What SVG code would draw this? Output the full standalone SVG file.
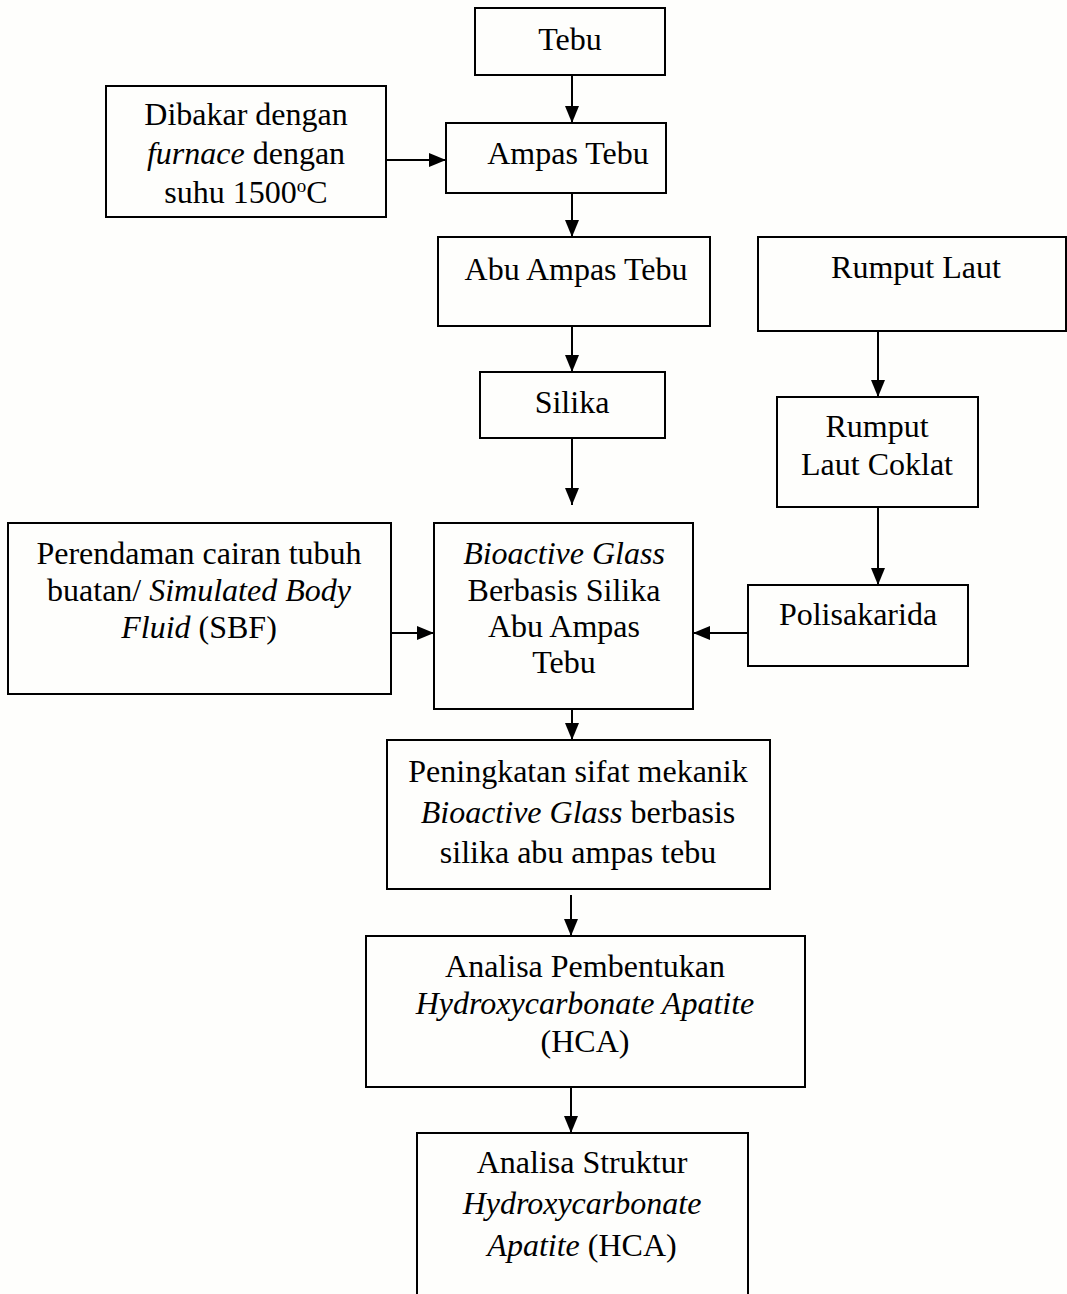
<svg xmlns="http://www.w3.org/2000/svg" width="1067" height="1294" viewBox="0 0 1067 1294">
<defs>
<marker id="ah" viewBox="0 0 17 14" refX="17" refY="7" markerWidth="17" markerHeight="14" markerUnits="userSpaceOnUse" orient="auto">
<path d="M0,0 L17,7 L0,14 z" fill="#000"/>
</marker>
<style>
.box{fill:none;stroke:#000;stroke-width:2}
.t{font-size:32px;fill:#000;text-anchor:middle}
.i{font-style:italic}
.c{stroke:#000;stroke-width:2;fill:none;marker-end:url(#ah)}
</style>
</defs>
<rect width="1067" height="1294" fill="#fefefc"/>
<g font-family="'Liberation Serif', 'DejaVu Serif', serif">
<g id="tebu"><rect class="box" x="475" y="8" width="190" height="67"/><text class="t" x="570" y="50">Tebu</text></g>
<g id="dibakar"><rect class="box" x="106" y="86" width="280" height="131"/>
<text class="t" x="246" y="125">Dibakar dengan</text>
<text class="t" x="246" y="164"><tspan class="i">furnace</tspan> dengan</text>
<text class="t" x="246" y="203">suhu 1500<tspan font-size="19" dy="-11">o</tspan><tspan dy="11">C</tspan></text></g>
<g id="ampas"><rect class="box" x="446" y="123" width="220" height="70"/><text class="t" x="568" y="164">Ampas Tebu</text></g>
<g id="abu"><rect class="box" x="438" y="237" width="272" height="89"/><text class="t" x="576" y="280">Abu Ampas Tebu</text></g>
<g id="rumput"><rect class="box" x="758" y="237" width="308" height="94"/><text class="t" x="916" y="278">Rumput Laut</text></g>
<g id="silika"><rect class="box" x="480" y="372" width="185" height="66"/><text class="t" x="572" y="413">Silika</text></g>
<g id="coklat"><rect class="box" x="777" y="397" width="201" height="110"/>
<text class="t" x="877" y="437">Rumput</text><text class="t" x="877" y="475">Laut Coklat</text></g>
<g id="polisakarida"><rect class="box" x="748" y="585" width="220" height="81"/><text class="t" x="858" y="625">Polisakarida</text></g>
<g id="bioactive"><rect class="box" x="434" y="523" width="259" height="186"/>
<text class="t i" x="564" y="564">Bioactive Glass</text>
<text class="t" x="564" y="601">Berbasis Silika</text>
<text class="t" x="564" y="637">Abu Ampas</text>
<text class="t" x="564" y="673">Tebu</text></g>
<g id="sbf"><rect class="box" x="8" y="523" width="383" height="171"/>
<text class="t" x="199" y="564">Perendaman cairan tubuh</text>
<text class="t" x="199" y="601">buatan/ <tspan class="i">Simulated Body</tspan></text>
<text class="t" x="199" y="638"><tspan class="i">Fluid</tspan> (SBF)</text></g>
<g id="peningkatan"><rect class="box" x="387" y="740" width="383" height="149"/>
<text class="t" x="578" y="782">Peningkatan sifat mekanik</text>
<text class="t" x="578" y="823"><tspan class="i">Bioactive Glass</tspan> berbasis</text>
<text class="t" x="578" y="863">silika abu ampas tebu</text></g>
<g id="pembentukan"><rect class="box" x="366" y="936" width="439" height="151"/>
<text class="t" x="585" y="977">Analisa Pembentukan</text>
<text class="t i" x="585" y="1014">Hydroxycarbonate Apatite</text>
<text class="t" x="585" y="1052">(HCA)</text></g>
<g id="struktur"><rect class="box" x="417" y="1133" width="331" height="175"/>
<text class="t" x="582" y="1173">Analisa Struktur</text>
<text class="t i" x="582" y="1214">Hydroxycarbonate</text>
<text class="t" x="582" y="1256"><tspan class="i">Apatite</tspan> (HCA)</text></g>
</g>
<g id="connectors">
<line class="c" x1="572" y1="75" x2="572" y2="123"/>
<line class="c" x1="386" y1="160" x2="446" y2="160"/>
<line class="c" x1="572" y1="193" x2="572" y2="237"/>
<line class="c" x1="572" y1="326" x2="572" y2="372"/>
<line class="c" x1="572" y1="438" x2="572" y2="505"/>
<line class="c" x1="878" y1="331" x2="878" y2="397"/>
<line class="c" x1="878" y1="507" x2="878" y2="585"/>
<line class="c" x1="748" y1="633" x2="693" y2="633"/>
<line class="c" x1="391" y1="633" x2="434" y2="633"/>
<line class="c" x1="572" y1="709" x2="572" y2="740"/>
<line class="c" x1="571" y1="895" x2="571" y2="936"/>
<line class="c" x1="571" y1="1087" x2="571" y2="1133"/>
</g>
</svg>
